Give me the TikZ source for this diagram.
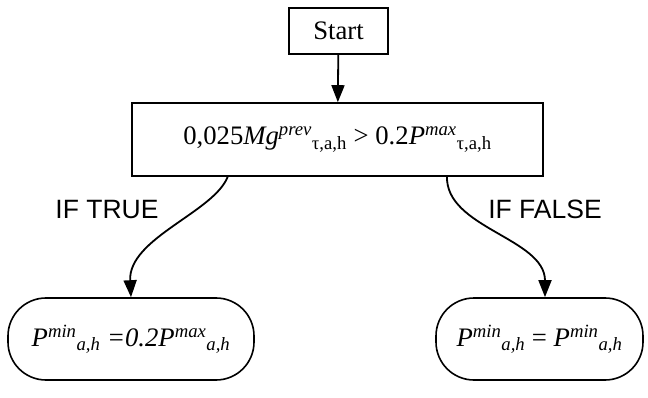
\documentclass[tikz,border=0pt]{standalone}
\usepackage{fontspec}
\setmainfont{Liberation Serif}
\newfontfamily\labelfont{Liberation Sans}
\usetikzlibrary{arrows.meta}
\tikzset{
  flowbox/.style={draw, line width=1.6pt, inner sep=0pt, font=\fontsize{26.7}{31}\selectfont},
  roundbox/.style={flowbox, rounded corners=38pt},
  flow/.style={line width=1.8pt, -{Triangle[length=17pt,width=13pt]}},
  branchlabel/.style={font=\labelfont\fontsize{26.5}{31}\selectfont, inner sep=0pt}
}
\begin{document}
\begin{tikzpicture}[x=1pt,y=1pt]
\useasboundingbox[fill=white] (0,0) rectangle (648,-398);
\node[flowbox, minimum width=99pt, minimum height=46pt] (start) at (338.5,-31) {Start};
\node[flowbox, minimum width=411pt, minimum height=73pt] (cond) at (337.5,-139.5)
  {0,025\textit{Mg}\textsuperscript{\textit{prev}}\textsubscript{τ,a,h} {>} 0.2\textit{P}\textsuperscript{\textit{max}}\textsubscript{τ,a,h}};
\node[roundbox, minimum width=246pt, minimum height=82pt] (yes) at (131,-339)
  {\itshape P\textsuperscript{min}\textsubscript{a,h} =0.2P\textsuperscript{max}\textsubscript{a,h}};
\node[roundbox, minimum width=207pt, minimum height=82pt] (no) at (539.5,-339)
  {\itshape P\textsuperscript{min}\textsubscript{a,h} \upshape=\itshape{} P\textsuperscript{min}\textsubscript{a,h}};
\coordinate (yesout) at (228,-176);
\coordinate (noout) at (447,-176);
\draw[flow] (start) -- (cond);
\draw[flow] (yesout) .. controls (215,-212) and (128,-238) .. (yes.north);
\draw[flow] (noout) .. controls (445,-228) and (545,-238) .. (no.north -| 545,0);
\node[branchlabel] (truelbl) at (107,-210) {IF TRUE};
\node[branchlabel] (falselbl) at (545,-209) {IF FALSE};
\end{tikzpicture}
\end{document}
